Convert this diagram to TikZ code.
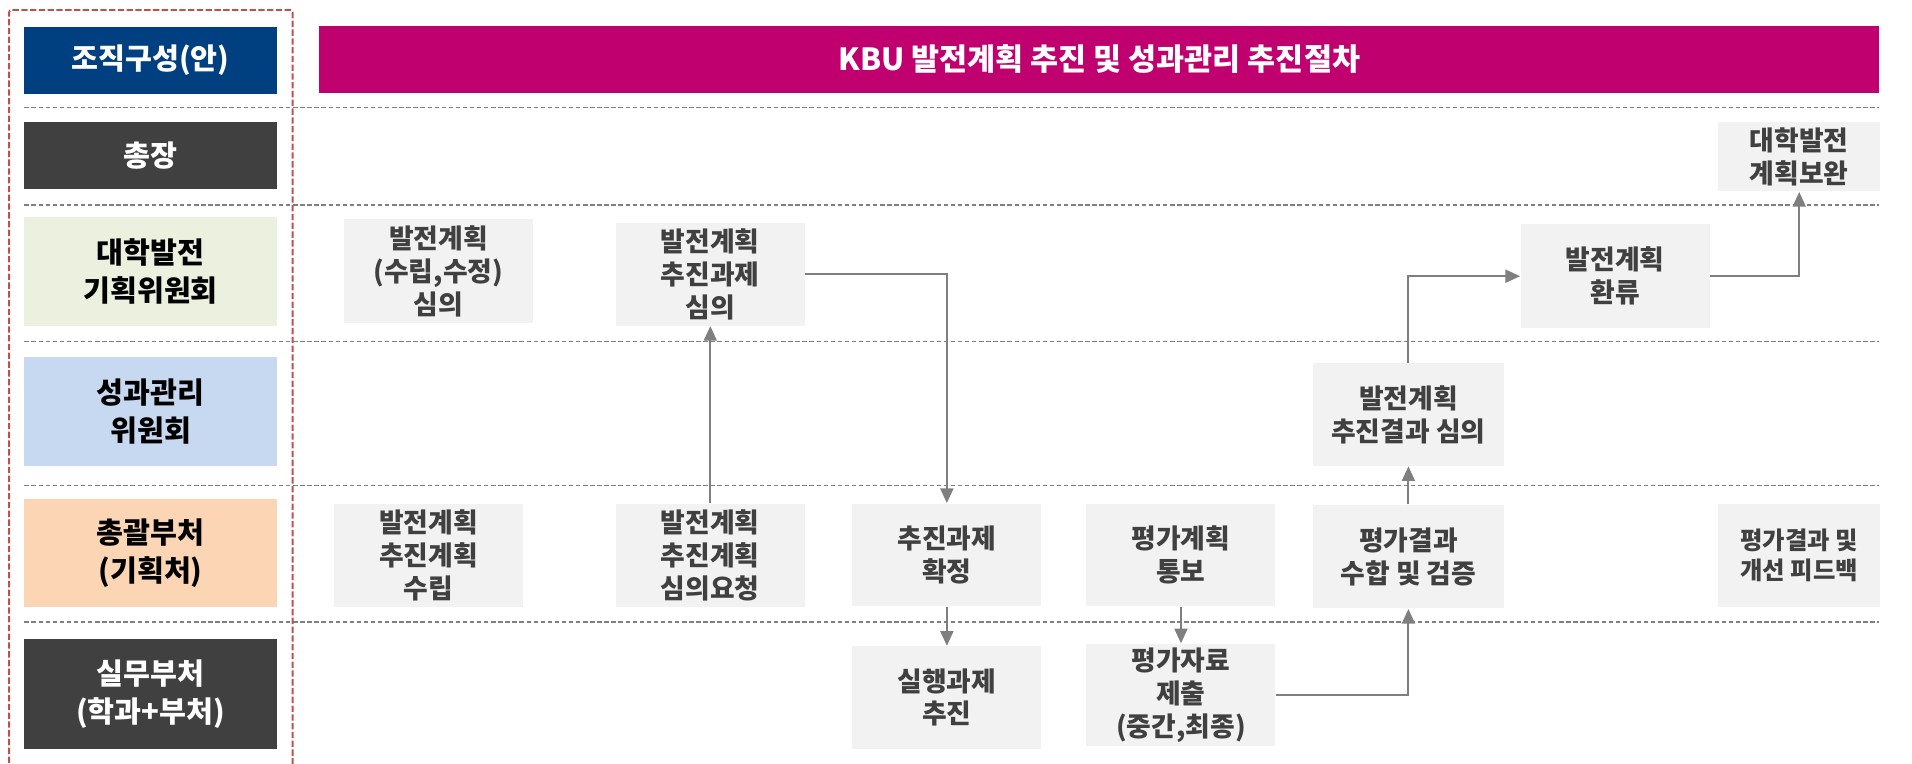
\documentclass[tikz,border=0pt]{standalone}
\usepackage{fontspec}
\setmainfont{Noto Sans CJK KR}
\usetikzlibrary{arrows.meta}
\definecolor{navy}{HTML}{004080}
\definecolor{dgray}{HTML}{404040}
\definecolor{lgreen}{HTML}{EBF1DE}
\definecolor{lblue}{HTML}{C6D9F1}
\definecolor{peach}{HTML}{FCD5B5}
\definecolor{magbar}{HTML}{C0006F}
\definecolor{boxgray}{HTML}{F2F2F2}
\definecolor{arrgray}{HTML}{7F7F7F}
\definecolor{redd}{HTML}{C0504D}
\definecolor{txtgray}{HTML}{404040}
\newcommand\placebox[7]{\node[#1, minimum width={(#5-#3)*0.5pt}, minimum height={(#6-#4)*0.5pt}] (#2) at ({(#3+#5)/2},{(#4+#6)/2}) {#7};}
\tikzset{
  hdr/.style={inner sep=0pt, align=center, font=\fontsize{12}{15.5}\selectfont\bfseries},
  hdrdark/.style={hdr, fill=dgray, text=white},
  titlebar/.style={inner sep=0pt, fill=magbar, text=white, font=\fontsize{12.5}{14}\selectfont\bfseries},
  content/.style={fill=boxgray, inner sep=0pt, align=center, text=txtgray, font=\fontsize{11}{13.5}\selectfont\bfseries},
  smallcontent/.style={content, font=\fontsize{10}{12}\selectfont\bfseries},
  flow/.style={draw=arrgray, line width=0.8pt, -{Triangle[length=6pt,width=5.3pt]}},
  lane/.style={draw=arrgray, line width=0.6pt, dash pattern=on 1.8pt off 1.1pt},
  frame/.style={draw=redd, line width=0.8pt, dash pattern=on 2.6pt off 1pt, rounded corners=1pt}
}
\begin{document}
\begin{tikzpicture}[x=0.5pt,y=-0.5pt]
\useasboundingbox (0,0) rectangle (1568,626);
% lane separators
\foreach \yy in {88,168,280,398,510} { \draw[lane] (20,\yy) -- (1541,\yy); }
% header column
\placebox{hdrdark, fill=navy}{org}{20}{22}{227}{77}{조직구성(안)}
\placebox{hdrdark}{pres}{20}{100}{227}{155}{총장}
\placebox{hdr, fill=lgreen}{plan}{20}{178}{227}{267}{대학발전\\기획위원회}
\placebox{hdr, fill=lblue}{perf}{20}{293}{227}{382}{성과관리\\위원회}
\placebox{hdr, fill=peach}{mgmt}{20}{409}{227}{498}{총괄부처\\(기획처)}
\placebox{hdrdark}{work}{20}{524}{227}{614}{실무부처\\(학과+부처)}
% red dashed frame
\coordinate (fbl) at (7.5,640);
\coordinate (fbr) at (240,640);
\draw[frame] (fbl) -- (7.5,8.2) -- (240,8.2) -- (fbr);
% title
\placebox{titlebar}{title}{262}{21}{1541}{76}{KBU 발전계획 추진 및 성과관리 추진절차}
% content boxes
\placebox{content}{A}{282}{180}{437}{265}{발전계획\\(수립,수정)\\심의}
\placebox{content}{B}{505}{183}{660}{267}{발전계획\\추진과제\\심의}
\placebox{content}{C}{274}{413}{429}{498}{발전계획\\추진계획\\수립}
\placebox{content}{D}{505}{413}{660}{498}{발전계획\\추진계획\\심의요청}
\placebox{content}{E}{699}{413}{854}{497}{추진과제\\확정}
\placebox{content}{F}{699}{530}{854}{614}{실행과제\\추진}
\placebox{content}{G}{891}{413}{1046}{497}{평가계획\\통보}
\placebox{content}{H}{891}{528}{1046}{612}{평가자료\\제출\\(중간,최종)}
\placebox{content}{I}{1077}{414}{1233}{499}{평가결과\\수합 및 검증}
\placebox{content}{J}{1077}{298}{1233}{382}{발전계획\\추진결과 심의}
\placebox{content}{K}{1247}{184}{1402}{269}{발전계획\\환류}
\placebox{content}{L}{1409}{100}{1542}{157}{대학발전\\계획보완}
\placebox{smallcontent}{M}{1409}{413}{1542}{498}{평가결과 및\\개선 피드백}
% connectors
\draw[flow] (D.north) -- (B.south);
\draw[flow] (B.east) -| (E.north);
\draw[flow] (E.south) -- (F.north);
\draw[flow] (G.south) -- (H.north);
\draw[flow] (H.east) -| (I.south);
\draw[flow] (I.north) -- (J.south);
\draw[flow] (J.north) |- (K.west);
\draw[flow] (K.east) -| (L.south);
\end{tikzpicture}
\end{document}
